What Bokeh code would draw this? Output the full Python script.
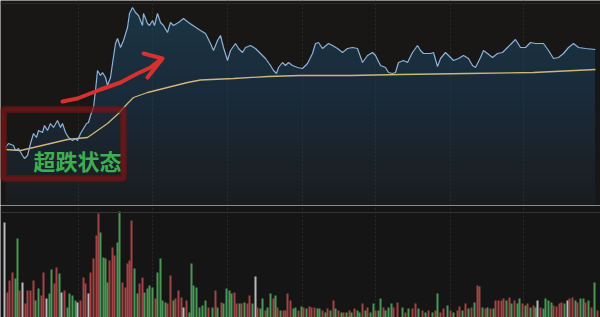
import numpy as np
from bokeh.plotting import figure
from bokeh.layouts import column
from bokeh.models import Range1d, FixedTicker, Span, BoxAnnotation, Label, Grid
from bokeh.embed import file_html
from bokeh.resources import INLINE

# ---------------- data ----------------
# intraday time (minutes from open) of the traced price points
price_time = [0.4, 1.6, 3.6, 4.4, 5.6, 7.2, 8.0, 9.2, 10.4, 11.6,
              12.8, 13.6, 15.2, 16.0, 17.2, 18.4, 19.6, 21.2, 22.4, 23.2,
              24.4, 25.6, 27.2, 28.4, 29.2, 30.4, 31.6, 32.8, 33.6, 34.4,
              35.6, 36.4, 37.2, 38.4, 39.2, 40.4, 41.2, 42.4, 43.2, 44.4,
              45.2, 46.4, 47.6, 49.2, 50.0, 51.2, 52.4, 53.6, 55.2, 55.6,
              57.2, 58.0, 59.2, 60.0, 61.2, 62.4, 63.6, 65.2, 66.4, 67.6,
              69.6, 71.6, 73.6, 77.2, 78.4, 80.4, 82.4, 83.6, 85.2, 86.4,
              87.6, 89.2, 90.4, 92.4, 93.6, 95.2, 96.4, 98.4, 100.4, 102.4,
              104.4, 106.4, 107.6, 108.8, 109.6, 111.2, 112.4, 113.6, 115.2, 117.2,
              119.2, 121.2, 123.2, 124.4, 125.6, 127.2, 129.6, 131.2, 133.2, 135.2,
              137.2, 139.2, 141.2, 143.2, 145.2, 147.2, 148.4, 150.4, 152.4, 153.6,
              155.2, 156.4, 157.6, 159.6, 161.2, 163.2, 165.2, 166.4, 167.6, 170.4,
              171.6, 173.2, 174.4, 176.4, 178.4, 179.6, 181.6, 183.6, 185.6, 187.2,
              188.4, 190.4, 191.6, 193.2, 195.2, 197.2, 199.2, 201.2, 203.2, 204.4,
              206.4, 208.4, 210.4, 212.4, 214.4, 215.6, 217.6, 219.6, 221.6, 223.6,
              225.6, 227.6, 229.6, 232.4, 236.4]
price = [9.812, 9.828, 9.820, 9.800, 9.808, 9.780, 9.768, 9.780, 9.828, 9.868,
         9.852, 9.880, 9.872, 9.900, 9.880, 9.908, 9.892, 9.920, 9.892, 9.908,
         9.872, 9.852, 9.840, 9.848, 9.840, 9.868, 9.888, 9.908, 9.912, 9.940,
         9.972, 10.040, 10.120, 10.100, 10.112, 10.092, 10.060, 10.092, 10.148, 10.228,
         10.248, 10.212, 10.240, 10.292, 10.348, 10.372, 10.352, 10.340, 10.300, 10.348,
         10.308, 10.300, 10.320, 10.300, 10.348, 10.312, 10.300, 10.272, 10.312, 10.300,
         10.312, 10.328, 10.312, 10.288, 10.280, 10.268, 10.228, 10.200, 10.240, 10.260,
         10.212, 10.160, 10.200, 10.228, 10.208, 10.192, 10.212, 10.220, 10.208, 10.188,
         10.168, 10.140, 10.120, 10.108, 10.132, 10.152, 10.140, 10.152, 10.140, 10.132,
         10.128, 10.148, 10.188, 10.228, 10.232, 10.208, 10.228, 10.220, 10.208, 10.192,
         10.208, 10.212, 10.208, 10.152, 10.180, 10.192, 10.180, 10.140, 10.132, 10.112,
         10.108, 10.112, 10.152, 10.160, 10.152, 10.192, 10.220, 10.200, 10.188, 10.188,
         10.192, 10.136, 10.168, 10.192, 10.172, 10.160, 10.168, 10.180, 10.168, 10.140,
         10.132, 10.172, 10.200, 10.188, 10.172, 10.188, 10.192, 10.212, 10.232, 10.244,
         10.212, 10.212, 10.232, 10.228, 10.228, 10.228, 10.200, 10.168, 10.172, 10.188,
         10.212, 10.228, 10.212, 10.208, 10.204]

avg_time = [0.4, 6.4, 11.6, 18.4, 25.2, 29.2, 33.2, 37.2, 41.2, 45.6,
            49.2, 51.6, 57.2, 65.2, 73.2, 78.4, 91.6, 105.2, 118.4, 138.4,
            158.4, 185.2, 211.6, 236.4]
avg_price = [9.804, 9.800, 9.812, 9.828, 9.844, 9.848, 9.852, 9.880, 9.908, 9.948,
             9.988, 10.012, 10.032, 10.052, 10.072, 10.082, 10.088, 10.096, 10.100, 10.100,
             10.104, 10.108, 10.112, 10.124]

vol_time = [0.0, 1.2, 2.0, 3.2, 4.4, 5.2, 6.0, 7.2, 8.4, 9.2,
            10.4, 11.6, 12.4, 13.6, 14.8, 15.6, 16.8, 18.0, 18.8, 20.0,
            20.8, 22.0, 22.8, 24.0, 25.2, 26.0, 27.2, 28.4, 29.2, 30.4,
            31.6, 32.4, 33.6, 34.4, 35.6, 36.8, 37.6, 38.4, 39.6, 40.4,
            41.2, 42.0, 43.2, 44.0, 45.2, 46.0, 47.2, 48.4, 49.2, 50.0,
            50.8, 52.0, 53.2, 54.0, 55.2, 56.0, 57.2, 58.0, 59.2, 60.4,
            61.2, 62.4, 63.2, 64.4, 65.2, 66.4, 67.6, 68.4, 69.6, 70.8,
            71.6, 72.8, 74.0, 74.8, 75.6, 76.8, 78.0, 79.2, 80.4, 81.6,
            83.2, 84.4, 85.2, 86.8, 87.6, 88.8, 90.0, 90.8, 92.0, 92.8,
            94.0, 94.8, 96.0, 97.2, 98.0, 99.2, 100.4, 101.2, 102.4, 103.2,
            104.4, 105.2, 106.4, 107.6, 108.4, 109.2, 110.4, 111.6, 112.4, 113.2,
            114.4, 115.6, 116.4, 117.6, 118.8, 119.6, 120.8, 122.0, 122.8, 124.0,
            125.2, 126.0, 127.2, 128.4, 129.2, 130.4, 131.6, 132.4, 133.6, 134.8,
            135.6, 136.8, 138.0, 138.8, 140.0, 141.2, 142.0, 143.2, 144.4, 145.2,
            146.4, 147.6, 148.4, 149.6, 150.4, 151.6, 152.4, 153.6, 154.8, 155.6,
            157.2, 159.2, 160.4, 161.6, 163.2, 164.4, 165.6, 167.2, 168.4, 169.6,
            171.2, 172.4, 173.2, 174.4, 175.6, 177.2, 178.4, 179.6, 181.2, 182.0,
            183.2, 184.4, 185.6, 186.8, 188.0, 189.2, 190.0, 191.2, 192.4, 193.2,
            194.4, 195.6, 196.4, 197.6, 198.8, 199.6, 200.8, 202.0, 202.8, 204.0,
            205.2, 206.0, 207.2, 208.4, 209.2, 210.4, 211.6, 212.4, 213.2, 214.4,
            215.6, 216.4, 217.6, 218.8, 219.6, 220.8, 222.0, 222.8, 224.0, 225.2,
            226.0, 227.2, 228.4, 229.2, 230.4, 231.6, 232.4, 233.6, 234.8, 236.0, 237.2]
volume = [4750, 1250, 1850, 2250, 1950, 3950, 1350, 1750, 700, 1350,
          1350, 1850, 850, 1450, 1100, 2250, 950, 1200, 2400, 1700,
          2500, 2200, 1250, 1350, 500, 1200, 1100, 850, 750, 850,
          2000, 1700, 1200, 2250, 2950, 4100, 5200, 4250, 3000, 2950,
          1750, 2850, 3500, 3100, 3750, 5300, 1750, 1500, 2700, 2850,
          4850, 2450, 1200, 1700, 2000, 1250, 1450, 1600, 1500, 950,
          2250, 2950, 850, 750, 700, 2100, 850, 950, 1350, 1000,
          500, 850, 250, 2700, 1600, 1500, 500, 600, 850, 500,
          500, 1350, 500, 750, 700, 1450, 1350, 1200, 1250, 700,
          700, 700, 750, 700, 1100, 700, 2050, 500, 450, 950,
          350, 500, 1200, 950, 1100, 500, 350, 350, 350, 1200,
          850, 450, 500, 350, 550, 500, 450, 550, 500, 500,
          450, 450, 350, 250, 450, 350, 850, 450, 350, 250,
          250, 250, 350, 250, 450, 350, 250, 700, 350, 500,
          250, 700, 350, 350, 950, 500, 350, 500, 700, 500,
          750, 500, 250, 450, 450, 700, 450, 350, 250, 350,
          250, 350, 1200, 250, 450, 600, 350, 250, 350, 550,
          350, 700, 450, 500, 750, 1600, 1550, 500, 450, 500,
          450, 450, 850, 850, 850, 950, 850, 1000, 700, 850,
          700, 950, 700, 600, 700, 500, 600, 500, 850, 500,
          450, 950, 850, 750, 600, 550, 700, 750, 700, 850,
          950, 1000, 850, 750, 950, 950, 750, 850, 500, 1750, 350]
# r = up (red), g = down (green), w = unchanged (white)
vol_dir = list("wrrrggrwrr" "rrggrrwggr" "rgwrggggwr" "rrwrrrrggg" "grrrggrrrr"
               "rggrrggggr" "ggggrrgrrr" "wrgggggggr" "grgrggggrr" "grgrrgwrgg"
               "rggrgrgrrr" "rggrgrgrrr" "ggrgrgrgrg" "rgrgrggrgr" "ggrggrgggr"
               "rgrgrrgrgr" "grgrrgrgrr" "grgrgrrgrg" "rgrrrrgrgr" "ggrgrgrgwr"
               "ggggrrrrgw" "rrgrggrgrgr")

grid_minutes = [29.6, 59.2, 89.2, 119.2, 148.4, 178.4, 207.6]
label_text = "超跌状态"

# ---------------- styling ----------------
BG_TOP = "#191715"
BG_BOT = "#151515"
GRID_C = "#2c2a28"

x_range = Range1d(-1.6, 238.4)

p = figure(width=600, height=205, x_range=x_range, y_range=Range1d(9.58, 10.40),
           output_backend="svg", toolbar_location=None, min_border=0,
           x_axis_location=None, y_axis_location=None,
           background_fill_color=BG_TOP, border_fill_color=BG_TOP,
           outline_line_color=None)
p.grid.visible = False
p.add_layout(Grid(dimension=0, ticker=FixedTicker(ticks=grid_minutes),
                  grid_line_color=GRID_C, grid_line_dash="2 2", grid_line_width=1))
p.add_layout(Span(location=10.388, dimension="width", line_color="#2a2826", line_width=1))

t = np.array(price_time)
pr = np.array(price)
bottom = np.full_like(pr, 9.58)
# base tint under the price line
p.varea(x=t, y1=bottom, y2=pr, fill_color="#2a4f7a", fill_alpha=0.07)
# vertical gradient: brighter higher up
for lev in np.linspace(9.58, 10.36, 25):
    p.varea(x=t, y1=np.full_like(pr, lev), y2=np.maximum(pr, lev),
            fill_color="#2a4f7a", fill_alpha=0.035)

p.line(avg_time, avg_price, line_color="#cdb676", line_width=1.3)
p.line(price_time, price, line_color="#8fb2d8", line_width=1.2)

# red box around the oversold phase
p.add_layout(BoxAnnotation(left=-0.4, right=47.6, bottom=9.688, top=9.964,
                           fill_alpha=0, line_color="#6e1212", line_width=7, line_alpha=0.6))
p.add_layout(BoxAnnotation(left=-0.4, right=47.6, bottom=9.688, top=9.964,
                           fill_alpha=0, line_color="#951b1b", line_width=4))

p.add_layout(Label(x=29.2, y=9.764, text=label_text, text_align="center",
                   text_baseline="middle", text_font="Noto Sans CJK SC",
                   text_font_style="bold", text_font_size="22px", text_color="#3fae50"))

# red arrow
arrow_x = [23.2, 29.2, 38.4, 46.4, 53.2, 58.4, 62.4]
arrow_y = [9.996, 10.008, 10.044, 10.072, 10.108, 10.132, 10.164]
p.line(arrow_x, arrow_y, line_color="#d8302f", line_width=4, line_cap="round", line_join="round")
p.multi_line([[55.6, 63.2, 57.2]], [[10.188, 10.168, 10.092]], line_color="#d8302f",
             line_width=4, line_cap="round", line_join="round")

# ---------------- volume panel ----------------
p2 = figure(width=600, height=112, x_range=x_range, y_range=Range1d(0, 5600),
            output_backend="svg", toolbar_location=None, min_border=0,
            x_axis_location=None, y_axis_location=None,
            background_fill_color=BG_BOT, border_fill_color=BG_BOT,
            outline_line_color=None)
p2.grid.visible = False
p2.add_layout(Grid(dimension=0, ticker=FixedTicker(ticks=grid_minutes),
                   grid_line_color=GRID_C, grid_line_dash="2 2", grid_line_width=1))
p2.add_layout(Span(location=5250, dimension="width", line_color="#353535", line_width=1))

cmap = {"r": "#b0484a", "g": "#4ea35c", "w": "#c8c8c8"}
p2.vbar(x=vol_time, top=volume, width=0.8, fill_color=[cmap[c] for c in vol_dir],
        line_color=None, fill_alpha=0.92)

layout = column(p, p2, spacing=0)
open("out.html", "w").write(file_html(layout, INLINE))
